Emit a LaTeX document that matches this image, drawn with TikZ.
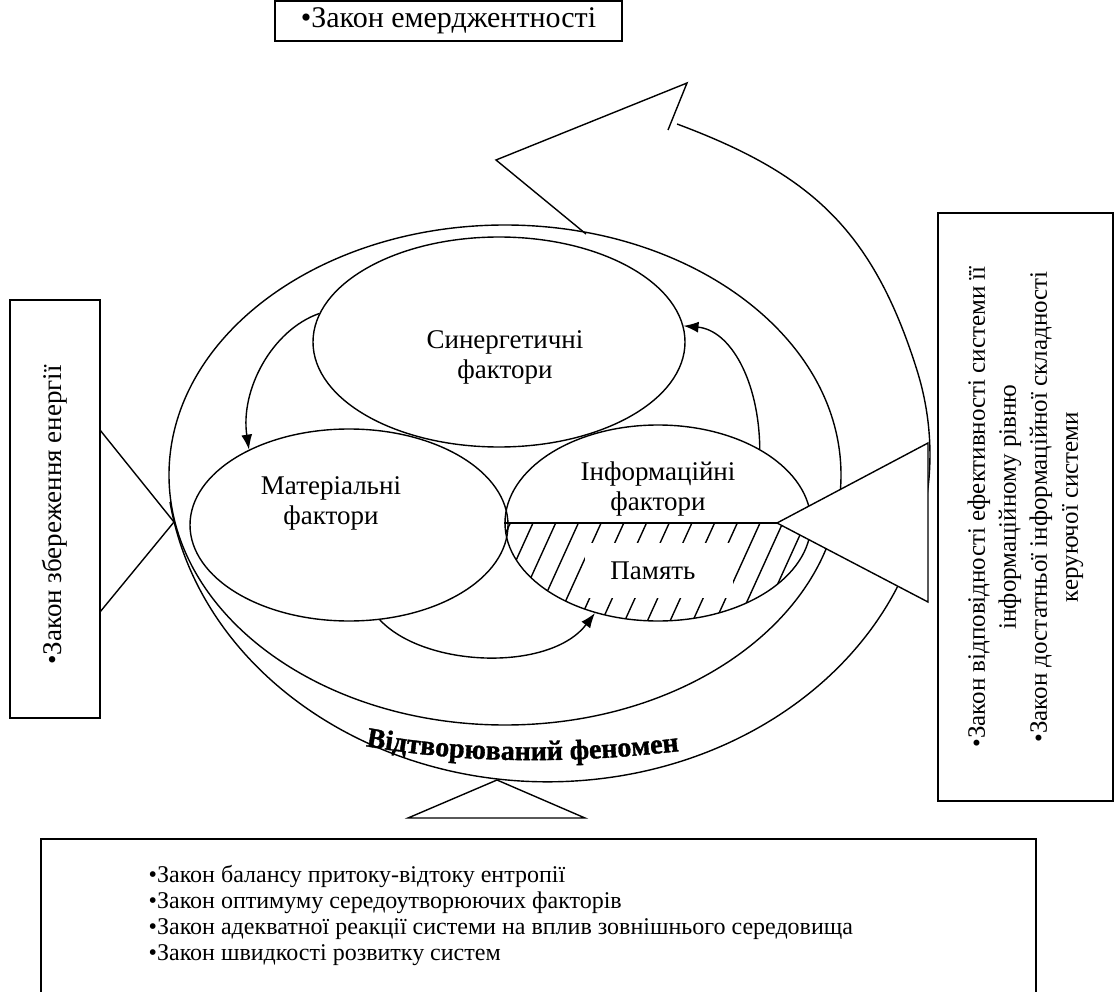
\documentclass[tikz,border=0pt]{standalone}
\usepackage{fontspec}
\setmainfont{Liberation Serif}
\newfontfamily\phenofont{Liberation Serif}[BoldFeatures={FakeBold=1.3}]
\usetikzlibrary{shapes.geometric,arrows.meta,decorations.text}
\begin{document}
\begin{tikzpicture}[x=1pt,y=-1pt,line width=1.4pt,
  every node/.style={inner sep=0pt},
  labelfont/.style={font=\fontsize{27}{30}\selectfont, align=center},
  factor/.style={ellipse, draw},
  lawbox/.style={draw, line width=1.6pt},
  lawtext/.style={font=\fontsize{25}{31}\selectfont, align=center},
  flow/.style={-{Latex[length=15pt,width=11pt]}},
  wedge/.style={draw, fill=white, line join=miter},
]
\useasboundingbox (0,0) rectangle (1114,992);
\clip (0,0) rectangle (1114,992);

% outer shell of the reproduced phenomenon
\node[factor, minimum width=672pt, minimum height=500pt] (shell) at (505,475) {};

% spiral band that turns into the emergence arrow
\coordinate (spiralstart) at (170,502);
\coordinate (spiralend) at (677,124);
\draw (spiralstart) arc[start angle=171.7, end angle=-15, x radius=382, y radius=327]
      .. controls (872,227) and (808,173) .. (spiralend);

% head of the emergence arrow
\coordinate (barb) at (668,130);
\coordinate (barbtop) at (687,83);
\coordinate (tip) at (496,160);
\coordinate (heel) at (586,234);
\draw[line join=miter] (barb) -- (barbtop) -- (tip) -- (heel);

% the three groups of factors
\node[factor, minimum width=372pt, minimum height=210pt] (syn) at (499,342) {};
\node[factor, minimum width=318pt, minimum height=192pt] (mat) at (349,525) {};
\node[factor, minimum width=306pt, minimum height=196pt] (inf) at (658,523) {};

\node[labelfont] (synlabel) at (505,357) {Синергетичні\\фактори};
\node[labelfont] (matlabel) at (331,503) {Матеріальні\\фактори};
\node[labelfont] (inflabel) at (658,489) {Інформаційні\\фактори};

% memory: hatched lower half of the information factors
\begin{scope}
  \clip (505,523) rectangle (815,625);
  \clip (658,523) ellipse [x radius=153, y radius=98];
  \foreach \k in {-2,...,14}
    \draw ({533+22.7*\k},523) -- ++(-50,110);
\end{scope}
\node[fill=white, minimum width=148pt, minimum height=55pt] (memgap) at (659,570) {};
\node[labelfont] (memlabel) at (653,571) {Память};

\coordinate (infapex) at (777,523);
\draw (inf.west) -- (infapex);

% interactions between the factors
\draw[flow] (syn.171) .. controls (272,330) and (240,390) .. (mat.143);
\draw[flow] (inf.36) .. controls (759,380) and (730,330) .. (syn.5);
\draw[flow] (mat.-72) .. controls (425,668) and (550,672) .. (inf.-125);

% wedges pointing at the shell
\draw[wedge] (infapex) -- (928,443) coordinate (rwedgetop) -- (928,602) coordinate (rwedgebot) -- cycle;
\draw[wedge] (174,522) coordinate (lwedgeapex) -- (100,430) -- (100,612) -- cycle;
\draw[wedge] (497,780) coordinate (bwedgeapex) -- (408,818) -- (585,818) -- cycle;

% laws
\node[lawbox, minimum width=347pt, minimum height=40pt, font=\fontsize{30}{32}\selectfont] (emergence) at (448.5,21) {•Закон емерджентності};
\node[lawbox, rotate=90, minimum width=418pt, minimum height=90pt] (energy) at (55,509) {};
\node[lawtext, font=\fontsize{27}{31}\selectfont, rotate=90] (energytext) at (55,515) {•Закон збереження енергії};
\node[lawbox, lawtext, rotate=90, minimum width=588pt, minimum height=175pt] (infolaws) at (1025.5,507)
  {•Закон відповідності ефективності системи її\\інформаційному рівню\\•Закон достатньої інформаційної складності\\керуючої системи};
\node[lawbox, anchor=north west, minimum width=995pt, minimum height=170pt] (envlaws) at (40,838) {};
\node[anchor=north west, align=left, font=\fontsize{24}{26}\selectfont] (envtext) at (148,865)
  {•Закон балансу притоку-відтоку ентропії\\
   •Закон оптимуму середоутворюючих факторів\\
   •Закон адекватної реакції системи на вплив зовнішнього середовища\\
   •Закон швидкості розвитку систем};

% caption bent along the band
\path[decorate, decoration={text along path, text align=center,
   text={|\phenofont\bfseries\fontsize{28}{32}\selectfont|Відтворюваний феномен}}]
   (365,746) .. controls (470,765) and (580,763) .. (680,751);
\end{tikzpicture}
\end{document}
